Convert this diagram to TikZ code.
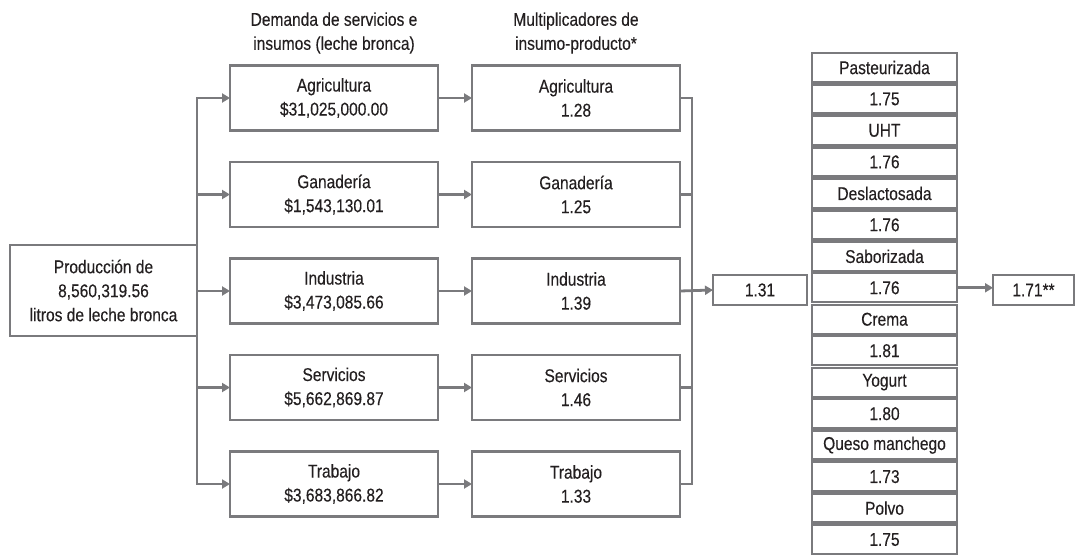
\documentclass[tikz,border=0pt]{standalone}
\usepackage{fontspec}
\setmainfont{Liberation Sans}[FakeStretch=0.84, FakeBold=0.25]
\usepackage{tikz}
\usetikzlibrary{positioning, arrows.meta}
\definecolor{linegray}{RGB}{122,122,125}
\definecolor{textgray}{RGB}{35,31,32}

\begin{document}
\begin{tikzpicture}[
        x = 1pt, y = -1pt,
        every node/.style = {
            text = textgray,
            align = center,
            inner sep = 0pt,
            outer sep = 0pt,
            font = \fontsize{18.5}{24}\selectfont
        },
        box/.style = {
            draw = linegray,
            line width = 2.8pt,
            rectangle,
            minimum width = 208pt,
            minimum height = 65pt
        },
        cell/.style = {
            draw = linegray,
            line width = 2.4pt,
            rectangle,
            minimum width = 145pt,
            minimum height = 29pt
        },
        link/.style = {
            draw = linegray,
            line width = 2.8pt
        },
        flow/.style = {
            link,
            -{Triangle[length = 8pt, width = 9pt]}
        }
    ]
        \useasboundingbox (0,0) rectangle (1083,556);
        \clip (0,0) rectangle (1083,556);

        \node[box, minimum width = 187pt, minimum height = 91pt] (prod) at (103.5,290.5) {
            Producción de \\ 8,560,319.56 \\ litros de leche bronca
        };

        \node (hdem) at (334,33) {Demanda de servicios e \\ insumos (leche bronca)};
        \node (hmult) at (576,33) {Multiplicadores de \\ insumo-producto*};

        \node[box] (dem1) at (334,98) {Agricultura \\ \$31,025,000.00};
        \node[box] (dem2) at (334,194.5) {Ganadería \\ \$1,543,130.01};
        \node[box] (dem3) at (334,291) {Industria \\ \$3,473,085.66};
        \node[box] (dem4) at (334,387.5) {Servicios \\ \$5,662,869.87};
        \node[box] (dem5) at (334,484) {Trabajo \\ \$3,683,866.82};

        \node[box] (mult1) at (576,98) {Agricultura \\ 1.28};
        \node[box] (mult2) at (576,194.5) {Ganadería \\ 1.25};
        \node[box] (mult3) at (576,291) {Industria \\ 1.39};
        \node[box] (mult4) at (576,387.5) {Servicios \\ 1.46};
        \node[box] (mult5) at (576,484) {Trabajo \\ 1.33};

        \node[box, minimum width = 94pt, minimum height = 30pt] (tot) at (760,290) {1.31};

        \node[cell, below = 0pt] (past) at (884.5,53) {Pasteurizada};
        \node[cell] (pastv) [below = 2.47pt of past] {1.75};
        \node[cell] (uht) [below = 2.47pt of pastv] {UHT};
        \node[cell] (uhtv) [below = 2.47pt of uht] {1.76};
        \node[cell] (desl) [below = 2.47pt of uhtv] {Deslactosada};
        \node[cell] (deslv) [below = 2.47pt of desl] {1.76};
        \node[cell] (sabo) [below = 2.47pt of deslv] {Saborizada};
        \node[cell] (sabov) [below = 2.47pt of sabo] {1.76};
        \node[cell] (crema) [below = 2.47pt of sabov] {Crema};
        \node[cell] (cremav) [below = 2.47pt of crema] {1.81};
        \node[cell] (yog) [below = 2.47pt of cremav] {Yogurt};
        \node[cell] (yogv) [below = 2.47pt of yog] {1.80};
        \node[cell] (queso) [below = 2.47pt of yogv] {Queso manchego};
        \node[cell] (quesov) [below = 2.47pt of queso] {1.73};
        \node[cell] (polvo) [below = 2.47pt of quesov] {Polvo};
        \node[cell] (polvov) [below = 2.47pt of polvo] {1.75};

        \node[box, minimum width = 81pt, minimum height = 30pt] (res) at (1033.5,290) {1.71**};

        \coordinate (busL) at (prod.east);
        \coordinate (busR) at ([xshift = 12pt]mult3.east);

        \draw[link, line cap = rect] (busL |- dem1) -- (busL |- dem5);
        \draw[flow] (busL |- dem1) -- (dem1.west);
        \draw[flow] (busL |- dem2) -- (dem2.west);
        \draw[flow] (busL |- dem3) -- (dem3.west);
        \draw[flow] (busL |- dem4) -- (dem4.west);
        \draw[flow] (busL |- dem5) -- (dem5.west);

        \draw[flow] (dem1) -- (mult1);
        \draw[flow] (dem2) -- (mult2);
        \draw[flow] (dem3) -- (mult3);
        \draw[flow] (dem4) -- (mult4);
        \draw[flow] (dem5) -- (mult5);

        \draw[link, line cap = rect] (busR |- mult1) -- (busR |- mult5);
        \draw[link] (mult1.east) -- (busR |- mult1);
        \draw[link] (mult2.east) -- (busR |- mult2);
        \draw[link] (mult4.east) -- (busR |- mult4);
        \draw[link] (mult5.east) -- (busR |- mult5);
        \draw[flow] (mult3.east) -- (tot.west);

        \draw[flow] (sabov.east) -- (sabov.east -| res.west);
\end{tikzpicture}
\end{document}
